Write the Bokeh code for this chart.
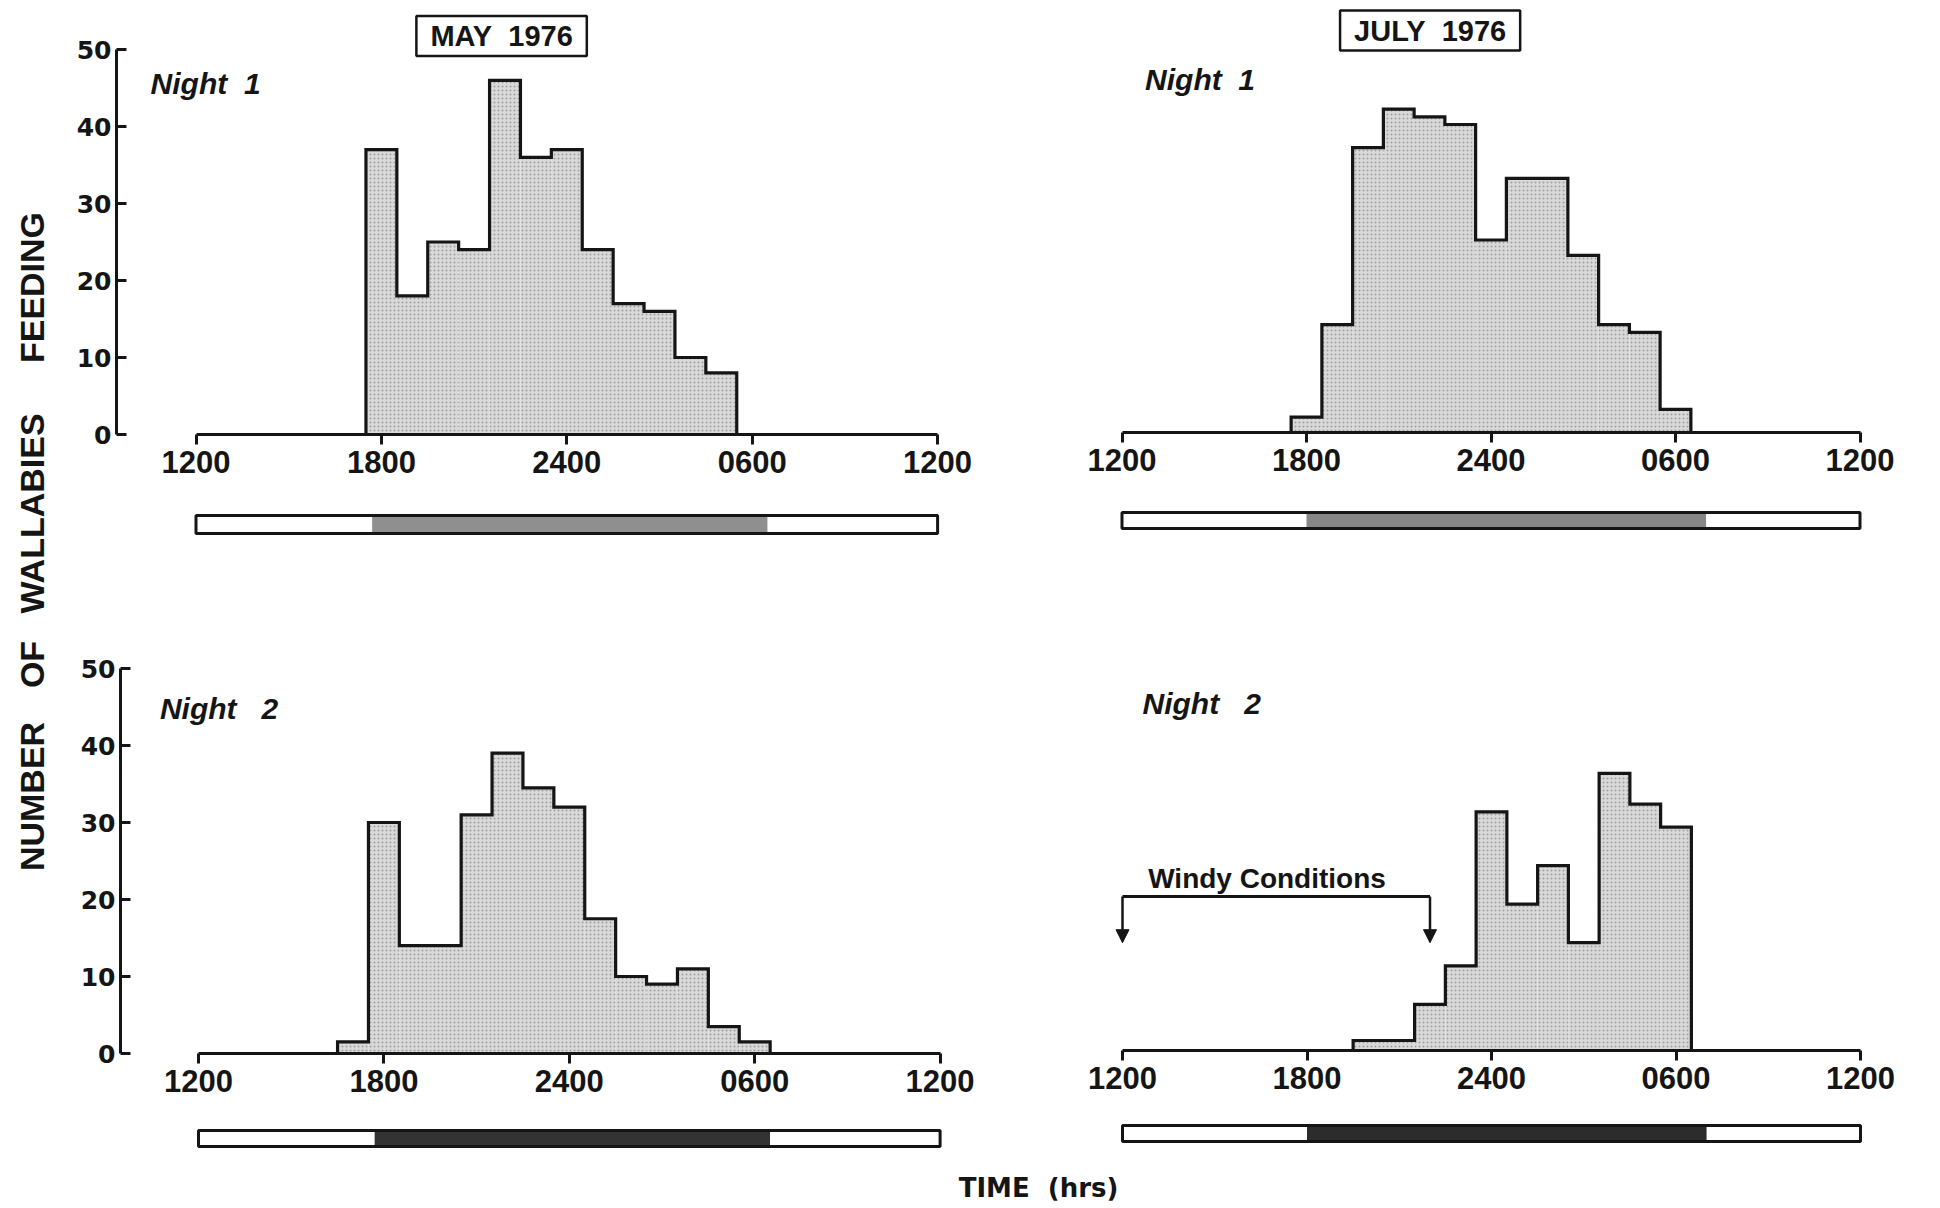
import math
from bokeh.plotting import figure
from bokeh.layouts import row, column
from bokeh.models import FixedTicker, Label, Arrow, NormalHead, Range1d, ColumnDataSource
from bokeh.embed import file_html
from bokeh.resources import INLINE
from bokeh.core.properties import value

# ---------------- data ----------------
# bin centres (clock hour) and number of wallabies feeding, 1-hour bins
may_n1_hours = [18, 19, 20, 21, 22, 23, 24, 1, 2, 3, 4, 5]
may_n1_counts = [37, 18, 25, 24, 46, 36, 37, 24, 17, 16, 10, 8]
may_n2_hours = [17, 18, 19, 20, 21, 22, 23, 24, 1, 2, 3, 4, 5, 6]
may_n2_counts = [1.5, 30, 14, 14, 31, 39, 34.5, 32, 17.5, 10, 9, 11, 3.5, 1.5]
jul_n1_hours = [18, 19, 20, 21, 22, 23, 24, 1, 2, 3, 4, 5, 6]
jul_n1_counts = [2, 14, 37, 42, 41, 40, 25, 33, 33, 23, 14, 13, 3]
jul_n2_hours = [20, 21, 22, 23, 24, 1, 2, 3, 4, 5, 6]
jul_n2_counts = [1.3, 1.3, 6, 11, 31, 19, 24, 14, 36, 32, 29]

may_dark = [17.7, 6.5]      # sunset, sunrise (clock hours)
jul_dark = [18.0, 7.0]
windy_period = [12, 22]     # clock hours

x_tick_pos = [0, 6, 12, 18, 24]            # hours since noon
x_tick_labels = ["1200", "1800", "2400", "0600", "1200"]
y_ticks = [0, 10, 20, 30, 40, 50]

FONT = "Liberation Sans"
WIDE = "DejaVu Sans"
INK = "#151515"
NB = "\u00a0"


def since_noon(h):
    return (h - 12) % 24


def make_cell(hours, counts, dark, g, show_y, night_text, night_xy, bar_dark):
    xr = Range1d((g['frame_left'] - g['x0']) / g['pph'], (g['frame_right'] - g['x0']) / g['pph'])
    fh = g['y0'] - g['frame_top']
    yr = Range1d(0, fh / g['ppu'])
    fw = g['frame_right'] - g['frame_left']
    p = figure(frame_width=fw, frame_height=fh, x_range=xr, y_range=yr,
               output_backend="svg", toolbar_location=None,
               min_border_left=g['frame_left'] - g['fig_left'],
               min_border_right=g['fig_right'] - g['frame_right'],
               min_border_top=g['frame_top'] - g['fig_top'],
               min_border_bottom=g['fig_bottom'] - g['y0'],
               y_axis_location="left" if show_y else None)
    p.outline_line_color = None
    p.grid.visible = False

    pos = [since_noon(h) for h in hours]
    src = ColumnDataSource(dict(left=[x - 0.5 for x in pos], right=[x + 0.5 for x in pos], top=counts))
    p.quad(left='left', right='right', top='top', bottom=0, source=src,
           fill_color="#d9d9d9", line_color=None,
           hatch_pattern="dot", hatch_color="#7a7a7a", hatch_scale=4, hatch_weight=1, hatch_alpha=0.6)
    ox, oy = [pos[0] - 0.5], [0]
    for x, c in zip(pos, counts):
        ox += [x - 0.5, x + 0.5]
        oy += [c, c]
    ox.append(pos[-1] + 0.5)
    oy.append(0)
    p.line(ox, oy, line_width=3.2, line_color=INK, line_join="miter")

    ax = p.xaxis[0]
    ax.ticker = FixedTicker(ticks=x_tick_pos)
    ax.major_label_overrides = dict(zip(x_tick_pos, x_tick_labels))
    ax.bounds = (0, 24)
    ax.axis_line_width = 3.2
    ax.axis_line_color = INK
    ax.major_tick_line_width = 3
    ax.major_tick_line_color = INK
    ax.major_tick_out = 10
    ax.major_tick_in = 0
    ax.minor_tick_line_color = None
    ax.major_label_text_font = FONT
    ax.major_label_text_font_style = "bold"
    ax.major_label_text_font_size = "31px"
    ax.major_label_text_color = INK
    ax.major_label_standoff = 6

    if show_y:
        ay = p.yaxis[0]
        ay.ticker = FixedTicker(ticks=y_ticks)
        ay.bounds = (0, 50)
        ay.axis_line_width = 3
        ay.axis_line_color = INK
        ay.major_tick_line_width = 3
        ay.major_tick_line_color = INK
        ay.major_tick_in = 10
        ay.major_tick_out = 0
        ay.minor_tick_line_color = None
        ay.major_label_text_font = WIDE
        ay.major_label_text_font_style = "bold"
        ay.major_label_text_font_size = "25px"
        ay.major_label_text_color = INK
        ay.major_label_standoff = 5

    p.add_layout(Label(x=night_xy[0], y=night_xy[1], text=night_text, text_font=FONT,
                       text_font_style="bold italic", text_font_size="30px",
                       text_color=INK, text_align="left", text_baseline="middle"))

    # day / night bar
    bh = g['bar_bot'] - g['bar_top']
    b = figure(frame_width=fw, frame_height=2 * bh, x_range=xr, y_range=Range1d(-0.5, 1.5),
               output_backend="svg", toolbar_location=None,
               x_axis_location=None, y_axis_location=None,
               min_border_left=g['frame_left'] - g['fig_left'],
               min_border_right=g['fig_right'] - g['frame_right'],
               min_border_top=int(g['bar_top'] - bh / 2 - g['fig_bottom']),
               min_border_bottom=int(g['cell_bottom'] - (g['bar_bot'] + bh / 2)))
    b.outline_line_color = None
    b.grid.visible = False
    dusk, dawn = since_noon(dark[0]), since_noon(dark[1])
    b.quad(left=[0, dusk, dawn], right=[dusk, dawn, 24], bottom=0, top=1,
           fill_color=["white", bar_dark, "white"], line_color=None)
    b.quad(left=[0], right=[24], bottom=0, top=1, fill_color=None, line_color=INK, line_width=3)
    return p, b


g1 = dict(x0=195.5, pph=30.9, frame_left=116, frame_right=965, fig_left=68, fig_right=985,
          fig_top=0, frame_top=10, y0=434, ppu=7.7, fig_bottom=495, bar_top=515, bar_bot=533, cell_bottom=560)
g2 = dict(x0=1121.5, pph=30.75, frame_left=1100, frame_right=1912, fig_left=985, fig_right=1932,
          fig_top=0, frame_top=6, y0=432, ppu=7.7, fig_bottom=495, bar_top=512, bar_bot=528, cell_bottom=560)
g3 = dict(x0=198, pph=30.9, frame_left=120, frame_right=965, fig_left=68, fig_right=985,
          fig_top=560, frame_top=570, y0=1053, ppu=7.7, fig_bottom=1113, bar_top=1130, bar_bot=1146, cell_bottom=1160)
g4 = dict(x0=1122, pph=30.75, frame_left=1100, frame_right=1912, fig_left=985, fig_right=1932,
          fig_top=560, frame_top=570, y0=1050, ppu=7.7, fig_bottom=1113, bar_top=1125, bar_bot=1141, cell_bottom=1160)

p1, b1 = make_cell(may_n1_hours, may_n1_counts, may_dark, g1, True, "Night" + NB * 2 + "1", (-1.47, 45.6), "#8f8f8f")
p2, b2 = make_cell(jul_n1_hours, jul_n1_counts, jul_dark, g2, False, "Night" + NB * 2 + "1", (0.75, 45.9), "#878787")
p3, b3 = make_cell(may_n2_hours, may_n2_counts, may_dark, g3, True, "Night" + NB * 3 + "2", (-1.25, 44.8), "#333333")
p4, b4 = make_cell(jul_n2_hours, jul_n2_counts, jul_dark, g4, False, "Night" + NB * 3 + "2", (0.65, 45.1), "#2c2c2c")

# month titles
for fig, txt, x, y in [(p1, "MAY" + NB * 2 + "1976", 9.89, 51.75), (p2, "JULY" + NB * 2 + "1976", 10.02, 52.2)]:
    fig.add_layout(Label(x=x, y=y, text=txt, text_font=FONT, text_font_style="bold",
                         text_font_size="29px", text_color=INK,
                         text_align="center", text_baseline="middle",
                         background_fill_color="white", border_line_color=INK, border_line_width=2.5,
                         padding=(14, 14, 4, 4)))

# windy conditions annotation
w0, w1 = since_noon(windy_period[0]), since_noon(windy_period[1])
p4.segment(x0=[w0], y0=[20], x1=[w1], y1=[20], line_width=3, line_color=INK)
for wx in (w0, w1):
    p4.add_layout(Arrow(x_start=wx, y_start=20, x_end=wx, y_end=14, line_width=2.5, line_color=INK,
                        end=NormalHead(size=13, fill_color=INK, line_color=INK)))
p4.add_layout(Label(x=(w0 + w1) / 2 - 0.3, y=22.3, text="Windy" + NB + "Conditions", text_font=FONT,
                    text_font_style="bold", text_font_size="28px", text_color=INK,
                    text_align="center", text_baseline="middle"))

TOTAL_H = 1206
# y title strip
yt = figure(frame_width=68, frame_height=TOTAL_H, x_range=Range1d(0, 68), y_range=Range1d(0, TOTAL_H),
            output_backend="svg", toolbar_location=None, x_axis_location=None, y_axis_location=None,
            min_border=0)
yt.outline_line_color = None
yt.grid.visible = False
yt.text(x=[31, 31, 31, 31], y=[TOTAL_H - 796, TOTAL_H - 664, TOTAL_H - 513, TOTAL_H - 287],
        text=["NUMBER", "OF", "WALLABIES", "FEEDING"],
        angle=math.pi / 2, text_font=value(FONT), text_font_style="bold", text_font_size="34px",
        text_color=INK, text_align="center", text_baseline="middle")

# x title strip
xt = figure(frame_width=1864, frame_height=TOTAL_H - 1160, x_range=Range1d(0, 1864),
            y_range=Range1d(0, TOTAL_H - 1160),
            output_backend="svg", toolbar_location=None, x_axis_location=None, y_axis_location=None,
            min_border=0)
xt.outline_line_color = None
xt.grid.visible = False
xt.text(x=[970], y=[19], text=["TIME" + NB * 2 + "(hrs)"], text_font=value(WIDE),
        text_font_style="bold", text_font_size="26px", text_color=INK,
        text_align="center", text_baseline="middle")

main = column(row(column(p1, b1), column(p2, b2)), row(column(p3, b3), column(p4, b4)), xt)
layout = row(yt, main)

open("out.html", "w").write(file_html(layout, INLINE))
